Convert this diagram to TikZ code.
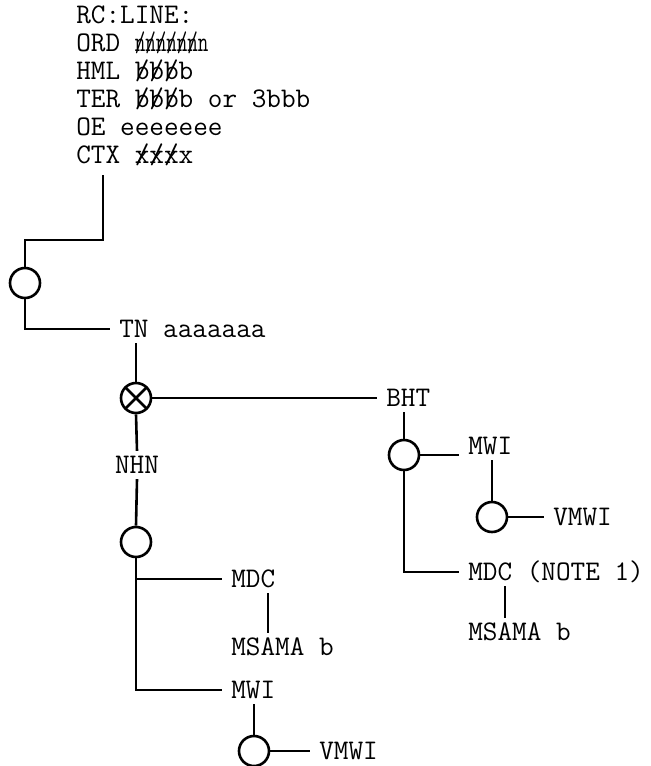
\documentclass[tikz,border=0pt]{standalone}
\usepackage{fontspec}
\usepackage{graphicx}

% struck-out letter
\newcommand\strk[1]{\rlap{/}#1}

\tikzset{
  lbl/.style={font=\fontsize{14.2}{14}\ttfamily\addfontfeature{FakeBold=1.2}, inner xsep=4pt, inner ysep=2pt,
              text height=8.9pt, text depth=0pt, anchor=west},
  ring/.style={draw, circle, minimum size=15pt, inner sep=0pt},
  xring/.style={ring, path picture={
      \draw (path picture bounding box.north west) -- (path picture bounding box.south east)
            (path picture bounding box.north east) -- (path picture bounding box.south west);}},
}

\begin{document}
\begin{tikzpicture}[x=0.5pt, y=-0.5pt, line width=1.3pt]
\useasboundingbox (0,0) rectangle (650,766);

% record header
\foreach \txt [count=\i] in {{RC:LINE:},
    {ORD \scalebox{0.72}[1]{\strk{n}\strk{n}\strk{n}\strk{n}\strk{n}\strk{n}n}},
    {HML \strk{b}\strk{b}\strk{b}b},
    {TER \strk{b}\strk{b}\strk{b}b or 3bbb},
    {OE eeeeeee},
    {CTX \strk{x}\strk{x}\strk{x}x}}
  \node[lbl] (h\i) at (67,{15+28*(\i-1)}) {\txt};

\coordinate (top) at (103,175);
\node[ring] (r0) at (25,283) {};
\node[lbl] (tn) at (110,329) {TN aaaaaaa};
\node[xring] (xc) at (136,398) {};
\node[lbl] (bht) at (377,398) {BHT};
\node[lbl, anchor=center] (nhn) at (137,465) {NHN};

% left branch
\node[ring] (r1) at (136,542) {};
\node[lbl] (mdc1) at (222,579) {MDC};
\node[lbl] (ms1) at (222,647) {MSAMA\rlap{ b}};
\node[lbl] (mwi1) at (222,690) {MWI};
\node[ring] (r2) at (254,751) {};
\node[lbl] (vm1) at (310,751) {VMWI};

% right branch
\node[ring] (r3) at (404,455) {};
\node[lbl] (mwi2) at (459,446) {MWI};
\node[ring] (r4) at (492,517) {};
\node[lbl] (vm2) at (544,517) {VMWI};
\node[lbl] (mdc2) at (459,572) {MDC (NOTE 1)};
\node[lbl] (ms2) at (459,632) {MSAMA\rlap{ b}};

\draw (top) |- (r0 |- 0,240) -- (r0.north);
\draw (r0.south) |- (tn.west);
\draw (xc |- tn.south) -- (xc.north);
\draw (xc.east) -- (bht.west);
\draw (xc.south) -- (nhn.north);
\draw (nhn.south) -- (r1.north);
\draw (r1.south) |- (mdc1.west);
\draw (r1.south) |- (mwi1.west);
\draw (ms1.north) -- (ms1.north |- mdc1.south);
\draw (r2 |- mwi1.south) -- (r2.north);
\draw (r2.east) -- (vm1.west);
\draw (r3 |- bht.south) -- (r3.north);
\draw (r3.east) -- (r3.east -| mwi2.west);
\draw (r3.south) |- (mdc2.west);
\draw (r4 |- mwi2.south) -- (r4.north);
\draw (r4.east) -- (vm2.west);
\draw (ms2.north) -- (ms2.north |- mdc2.south);
\end{tikzpicture}
\end{document}
